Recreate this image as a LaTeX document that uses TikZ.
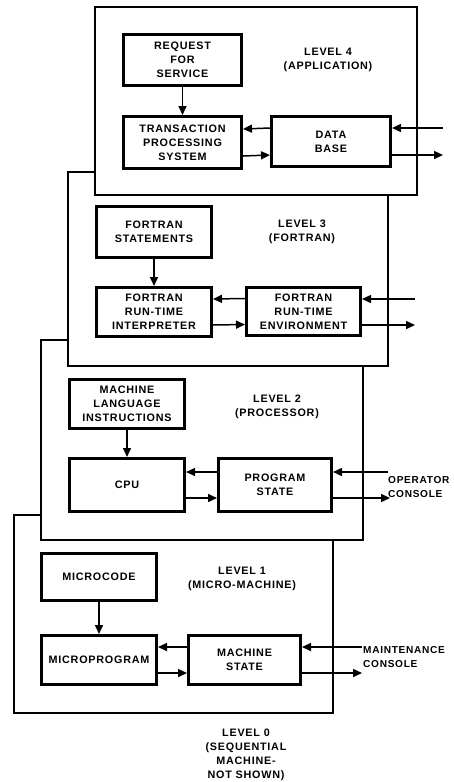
\documentclass[tikz,border=0pt]{standalone}
\usepackage{fontspec}
\newfontfamily\lblfont{Liberation Sans}[LetterSpace=7]
\usetikzlibrary{arrows.meta}
\begin{document}
\begin{tikzpicture}[x=1pt,y=-1pt,
  lbl/.style={font=\lblfont\bfseries\fontsize{10.8}{14}\selectfont, align=center, inner sep=0pt},
  side/.style={lbl, font=\lblfont\bfseries\fontsize{10.1}{14}\selectfont, align=left, anchor=west},
  unit/.style={lbl, draw, line width=3pt, rectangle, minimum width=116pt, minimum height=50pt},
  frame/.style={draw, fill=white, line width=1.5pt},
  link/.style={line width=1.5pt, -{Triangle[length=9pt,width=8pt]}}]
\useasboundingbox (0,0) rectangle (453,782);

% stacked level frames, lower levels drawn first so that upper ones overlap them
\draw[frame] (14,515) rectangle (333,713);
\draw[frame] (41,340) rectangle (363,540);
\draw[frame] (68,172) rectangle (388,366);
\draw[frame] (95,7) rectangle (417,195);

% level 4
\node[unit, minimum width=118pt, minimum height=51pt] (req) at (182.5,60) {REQUEST\\FOR\\SERVICE};
\node[unit, minimum width=118pt, minimum height=52pt] (tps) at (182.5,142.5) {TRANSACTION\\PROCESSING\\SYSTEM};
\node[unit, minimum width=119pt, minimum height=50pt] (db) at (331,141.5) {DATA\\BASE};
\node[lbl] (l4) at (328,60) {LEVEL 4\\(APPLICATION)};
\coordinate (in4) at (443,128);
\coordinate (out4) at (443,155);
\draw[link] (req.south) -- (tps.north);
\draw[link] ([yshift=13.5pt]db.west) -- ([yshift=13.5pt]tps.east);
\draw[link] ([yshift=-13.5pt]tps.east) -- ([yshift=-13.5pt]db.west);
\draw[link] (in4) -- (db.east |- in4);
\draw[link] (db.east |- out4) -- (out4);

% level 3
\node[unit, minimum width=115pt, minimum height=51pt] (fst) at (154,232) {FORTRAN\\STATEMENTS};
\node[unit, minimum width=115pt, minimum height=49pt] (fri) at (154,312) {FORTRAN\\RUN-TIME\\INTERPRETER};
\node[unit, minimum width=114pt, minimum height=48pt] (fre) at (303.5,311.5) {FORTRAN\\RUN-TIME\\ENVIRONMENT};
\node[lbl] (l3) at (302,232) {LEVEL 3\\(FORTRAN)};
\coordinate (in3) at (415,299);
\coordinate (out3) at (415,325);
\draw[link] (fst.south) -- (fri.north);
\draw[link] ([yshift=13pt]fre.west) -- ([yshift=13pt]fri.east);
\draw[link] ([yshift=-13pt]fri.east) -- ([yshift=-13pt]fre.west);
\draw[link] (in3) -- (fre.east |- in3);
\draw[link] (fre.east |- out3) -- (out3);

% level 2
\node[unit, minimum width=115pt, minimum height=49pt] (mli) at (127,404) {MACHINE\\LANGUAGE\\INSTRUCTIONS};
\node[unit, minimum width=115pt, minimum height=53pt] (cpu) at (127,485) {CPU};
\node[unit, minimum width=113pt, minimum height=53pt] (ps) at (275,485) {PROGRAM\\STATE};
\node[lbl] (l2) at (277,407) {LEVEL 2\\(PROCESSOR)};
\node[side] (opc) at (388,487) {OPERATOR\\CONSOLE};
\coordinate (in2) at (388,472);
\coordinate (out2) at (390,498);
\draw[link] (mli.south) -- (cpu.north);
\draw[link] ([yshift=13pt]ps.west) -- ([yshift=13pt]cpu.east);
\draw[link] ([yshift=-13pt]cpu.east) -- ([yshift=-13pt]ps.west);
\draw[link] (in2) -- (ps.east |- in2);
\draw[link] (ps.east |- out2) -- (out2);

% level 1
\node[unit, minimum width=115pt, minimum height=47pt] (mcode) at (99,577) {MICROCODE};
\node[unit, minimum width=115pt, minimum height=49pt] (mprog) at (99,660) {MICROPROGRAM};
\node[unit, minimum width=112pt, minimum height=49pt] (ms) at (244.5,660) {MACHINE\\STATE};
\node[lbl] (l1) at (242,578.5) {LEVEL 1\\(MICRO-MACHINE)};
\node[side] (mc) at (363,657) {MAINTENANCE\\CONSOLE};
\coordinate (in1) at (362,647);
\coordinate (out1) at (362,673);
\draw[link] (mcode.south) -- (mprog.north);
\draw[link] ([yshift=13pt]ms.west) -- ([yshift=13pt]mprog.east);
\draw[link] ([yshift=-13pt]mprog.east) -- ([yshift=-13pt]ms.west);
\draw[link] (in1) -- (ms.east |- in1);
\draw[link] (ms.east |- out1) -- (out1);

% level 0
\node[lbl] (l0) at (246,755) {LEVEL 0\\(SEQUENTIAL\\MACHINE-\\NOT SHOWN)};
\end{tikzpicture}
\end{document}
